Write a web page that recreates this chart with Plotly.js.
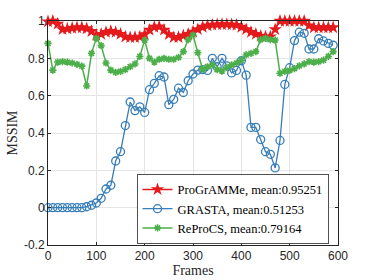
<!DOCTYPE html>
<html><head><meta charset="utf-8">
<script src="https://cdn.plot.ly/plotly-3.0.1.min.js"></script>
<style>html,body{margin:0;padding:0;background:#fff}#c{width:374px;height:280px}</style>
</head><body><div id="c"></div>
<script>
const frames = [0,10,20,30,40,50,60,70,80,90,100,110,120,130,140,150,160,170,180,190,200,210,220,230,240,250,260,270,280,290,300,310,320,330,340,350,360,370,380,390,400,410,420,430,440,450,460,470,480,490,500,510,520,530,540,550,560,570,580,590];
const programme = [0.997,1.0,0.985,0.955,0.958,0.962,0.965,0.965,0.96,0.945,0.925,0.93,0.94,0.945,0.94,0.93,0.915,0.912,0.913,0.915,0.928,0.952,0.968,0.97,0.952,0.928,0.912,0.913,0.922,0.93,0.942,0.955,0.968,0.975,0.979,0.981,0.982,0.982,0.981,0.978,0.968,0.955,0.94,0.93,0.92,0.916,0.916,0.955,1.0,1.0,1.0,1.0,1.0,1.0,0.975,0.965,0.965,0.965,0.965,0.965];
const grasta = [0,0,0,0,0,0,0,0,0.005,0.013,0.025,0.05,0.10,0.12,0.25,0.30,0.44,0.566,0.52,0.54,0.51,0.632,0.666,0.707,0.70,0.552,0.58,0.64,0.617,0.68,0.716,0.737,0.74,0.735,0.80,0.755,0.80,0.76,0.722,0.735,0.787,0.71,0.43,0.43,0.365,0.30,0.286,0.213,0.36,0.66,0.75,0.895,0.94,0.934,0.85,0.85,0.905,0.893,0.88,0.87];
const reprocs = [0.88,0.737,0.78,0.782,0.78,0.775,0.768,0.758,0.652,0.827,0.907,0.868,0.775,0.737,0.725,0.73,0.74,0.755,0.77,0.81,0.898,0.80,0.78,0.795,0.80,0.795,0.795,0.805,0.836,0.90,0.925,0.83,0.742,0.755,0.765,0.74,0.732,0.752,0.765,0.775,0.79,0.818,0.827,0.836,0.90,0.907,0.90,0.898,0.72,0.73,0.735,0.745,0.76,0.77,0.782,0.78,0.782,0.79,0.81,0.836];
const names = ['ProGrAMMe, mean:0.95251','GRASTA, mean:0.51253','ReProCS, mean:0.79164'];
const xTicks = [0,100,200,300,400,500,600];
const yTicks = [-0.2,0,0.2,0.4,0.6,0.8,1];
const yTickText = ['-0.2','0','0.2','0.4','0.6','0.8','1'];

const traces = [
 {x:frames,y:programme,name:names[0],mode:'lines+markers',cliponaxis:false,
  line:{color:'#e41a1c',width:1.5},marker:{symbol:'star',size:10,color:'#e41a1c',line:{width:0}}},
 {x:frames,y:grasta,name:names[1],mode:'lines+markers',cliponaxis:false,
  line:{color:'#377eb8',width:1.3},marker:{symbol:'circle-open',size:8,color:'#377eb8',line:{width:1.3}}},
 {x:frames,y:reprocs,name:names[2],mode:'lines+markers',cliponaxis:false,
  line:{color:'#4daf4a',width:1.5},marker:{symbol:'asterisk-open',size:6,color:'#4daf4a',line:{width:1.6,color:'#4daf4a'}}}
];
const axCommon = {showline:true,mirror:'ticks',linecolor:'#262626',linewidth:1,ticks:'inside',ticklen:3,tickcolor:'#262626',
  showgrid:true,gridcolor:'#e5e5e5',gridwidth:1,zeroline:false,tickfont:{family:'Liberation Sans, Arial, sans-serif',size:12,color:'#262626'}};
const layout = {
 width:374,height:280,margin:{l:48,r:36,t:21,b:35},
 paper_bgcolor:'#fff',plot_bgcolor:'#fff',showlegend:true,
 xaxis:Object.assign({},axCommon,{range:[0,600],tickvals:xTicks,ticktext:xTicks.map(String),
   title:{text:'Frames',font:{family:'Liberation Serif, serif',size:14,color:'#262626'},standoff:1}}),
 yaxis:Object.assign({},axCommon,{range:[-0.2,1],tickvals:yTicks,ticktext:yTickText,
   title:{text:'MSSIM',font:{family:'Liberation Serif, serif',size:14,color:'#262626'},standoff:3}}),
 legend:{x:0.968,y:0.317,xanchor:'right',yanchor:'top',bgcolor:'#fff',bordercolor:'#262626',borderwidth:0.8,
   font:{family:'Liberation Serif, serif',size:12.5,color:'#000'},tracegroupgap:0,itemwidth:30}
};
Plotly.newPlot('c',traces,layout,{staticPlot:true,displayModeBar:false});
</script></body></html>
